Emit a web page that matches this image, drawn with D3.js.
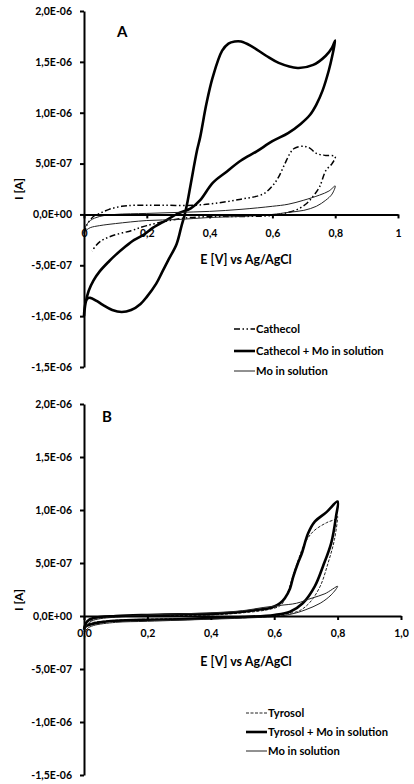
<!DOCTYPE html>
<html>
<head>
<meta charset="utf-8">
<script src="https://cdn.jsdelivr.net/npm/d3@7"></script>
<style>
  html, body { margin: 0; padding: 0; background: #fff; }
  svg { display: block; }
  text { font-family: Lato, "Open Sans", sans-serif; font-weight: bold; fill: #000; }
</style>
</head>
<body>
<svg id="chart" width="414" height="784"></svg>
<script>
// ---- Tick values / labels (current in units of 1e-6 A) ----
const yTickValues = [2, 1.5, 1, 0.5, 0, -0.5, -1, -1.5];
const yTickLabels = ["2,0E-06", "1,5E-06", "1,0E-06", "5,0E-07", "0,0E+00", "-5,0E-07", "-1,0E-06", "-1,5E-06"];
const xTickValues = [0, 0.2, 0.4, 0.6, 0.8, 1];
const xTickLabelsA = ["0", "0,2", "0,4", "0,6", "0,8", "1"];
const xTickLabelsB = ["0,0", "0,2", "0,4", "0,6", "0,8", "1,0"];

// ---- Panel A: Cathecol ----
const cathE = [0, 0.01, 0.03, 0.05, 0.08, 0.12, 0.16, 0.25, 0.35, 0.42, 0.50, 0.57, 0.60, 0.62, 0.64, 0.656, 0.67, 0.70, 0.72, 0.74, 0.77, 0.80,
               0.79, 0.77, 0.75, 0.73, 0.71, 0.68, 0.65, 0.60, 0.50, 0.42, 0.31, 0.20, 0.15, 0.09, 0.05, 0.025];
const cathI = [-0.19, -0.1, -0.02, 0.01, 0.05, 0.08, 0.09, 0.09, 0.09, 0.11, 0.15, 0.20, 0.28, 0.37, 0.50, 0.60, 0.65, 0.67, 0.65, 0.60, 0.58, 0.57,
               0.50, 0.43, 0.27, 0.18, 0.11, 0.05, 0.02, -0.01, -0.02, -0.02, -0.04, -0.11, -0.16, -0.21, -0.27, -0.36];

// ---- Panel A: Cathecol + Mo in solution ----
const cathMoE = [0, 0.003, 0.01, 0.02, 0.04, 0.06, 0.09, 0.12, 0.15, 0.18, 0.20, 0.23, 0.25, 0.27, 0.295, 0.31, 0.32, 0.33, 0.34, 0.36, 0.37, 0.39, 0.41, 0.44, 0.46, 0.48, 0.50, 0.53, 0.58, 0.62, 0.68, 0.73, 0.77, 0.79, 0.80,
                 0.79, 0.78, 0.76, 0.74, 0.72, 0.69, 0.65, 0.60, 0.55, 0.50, 0.45, 0.41, 0.37, 0.34, 0.30, 0.26, 0.22, 0.19, 0.16, 0.13, 0.10, 0.08, 0.05, 0.03, 0.015, 0.005, 0];
const cathMoI = [-1.0, -0.9, -0.83, -0.82, -0.85, -0.89, -0.94, -0.96, -0.94, -0.88, -0.81, -0.68, -0.56, -0.44, -0.29, -0.12, -0.01, 0.13, 0.30, 0.63, 0.76, 1.09, 1.35, 1.61, 1.68, 1.70, 1.70, 1.66, 1.56, 1.49, 1.44, 1.47, 1.56, 1.64, 1.71,
                 1.55, 1.42, 1.22, 1.08, 0.98, 0.89, 0.80, 0.72, 0.62, 0.53, 0.41, 0.31, 0.14, 0.06, 0.01, -0.06, -0.13, -0.20, -0.25, -0.32, -0.40, -0.46, -0.56, -0.65, -0.75, -0.87, -1.0];

// ---- Panel A: Mo in solution ----
const moAE = [0, 0.005, 0.02, 0.05, 0.10, 0.20, 0.30, 0.40, 0.50, 0.60, 0.65, 0.70, 0.75, 0.78, 0.80,
              0.79, 0.77, 0.74, 0.70, 0.65, 0.60, 0.50, 0.40, 0.30, 0.20, 0.10, 0.05, 0.02, 0.005];
const moAI = [-0.18, -0.12, -0.06, -0.02, 0.0, 0.01, 0.02, 0.03, 0.05, 0.08, 0.10, 0.14, 0.19, 0.23, 0.28,
              0.20, 0.14, 0.08, 0.04, 0.02, 0.0, -0.02, -0.03, -0.05, -0.06, -0.09, -0.11, -0.13, -0.16];

// ---- Panel B: Tyrosol ----
const tyrE = [0, 0.01, 0.05, 0.20, 0.40, 0.50, 0.58, 0.62, 0.64, 0.655, 0.676, 0.697, 0.724, 0.765, 0.797, 0.80,
              0.79, 0.77, 0.745, 0.713, 0.68, 0.64, 0.60, 0.40, 0.20, 0.10, 0.03, 0.01, 0];
const tyrI = [-0.10, -0.06, -0.02, 0.0, 0.01, 0.03, 0.06, 0.10, 0.20, 0.34, 0.53, 0.69, 0.80, 0.88, 0.92, 0.94,
              0.72, 0.50, 0.28, 0.13, 0.05, 0.02, 0.0, -0.02, -0.03, -0.04, -0.06, -0.08, -0.10];

// ---- Panel B: Tyrosol + Mo in solution ----
const tyrMoE = [0, 0.01, 0.03, 0.10, 0.20, 0.30, 0.40, 0.50, 0.55, 0.58, 0.60, 0.618, 0.634, 0.65, 0.66, 0.675, 0.687, 0.707, 0.728, 0.765, 0.80,
                0.795, 0.78, 0.754, 0.728, 0.69, 0.65, 0.60, 0.50, 0.40, 0.30, 0.20, 0.10, 0.05, 0.02, 0.005, 0];
const tyrMoI = [-0.12, -0.05, -0.02, 0.0, 0.01, 0.015, 0.02, 0.04, 0.06, 0.07, 0.09, 0.12, 0.17, 0.26, 0.37, 0.50, 0.59, 0.78, 0.89, 0.98, 1.08,
                0.94, 0.69, 0.47, 0.28, 0.12, 0.04, 0.01, -0.01, -0.02, -0.03, -0.035, -0.045, -0.06, -0.08, -0.10, -0.13];

// ---- Panel B: Mo in solution ----
const moBE = [0, 0.01, 0.03, 0.10, 0.20, 0.30, 0.40, 0.50, 0.565, 0.618, 0.67, 0.72, 0.76, 0.80,
              0.78, 0.745, 0.70, 0.67, 0.62, 0.50, 0.40, 0.20, 0.10, 0.03, 0.01, 0];
const moBI = [-0.15, -0.08, -0.04, -0.01, 0.01, 0.02, 0.03, 0.05, 0.08, 0.10, 0.12, 0.17, 0.21, 0.28,
              0.20, 0.12, 0.06, 0.03, 0.0, -0.02, -0.03, -0.05, -0.06, -0.09, -0.12, -0.17];

const styles = {
  dashdot: { width: 1.5, color: "#000", dash: "6,2.5,1.5,2.5,1.5,2.5" },
  thick:   { width: 2.6, color: "#000", dash: null },
  thin:    { width: 1,   color: "#222", dash: null },
  dashed:  { width: 1,   color: "#222", dash: "3,1.5" }
};

const panels = [
  {
    letter: "A", letterX: 117, letterY: 37,
    xRange: [84, 398], yRange: [367, 11], xLabels: xTickLabelsA, tickPad: 11,
    titleY: 264, yTitleY: 189,
    series: [
      { name: "Cathecol", E: cathE, I: cathI, style: "dashdot" },
      { name: "Cathecol + Mo in solution", E: cathMoE, I: cathMoI, style: "thick" },
      { name: "Mo in solution", E: moAE, I: moAI, style: "thin" }
    ],
    legend: { x1: 234, x2: 255, ys: [329, 351, 371] }
  },
  {
    letter: "B", letterX: 102, letterY: 422,
    xRange: [84, 401], yRange: [775, 404], xLabels: xTickLabelsB, tickPad: 10,
    titleY: 666, yTitleY: 600,
    series: [
      { name: "Tyrosol", E: tyrE, I: tyrI, style: "dashed" },
      { name: "Tyrosol + Mo in solution", E: tyrMoE, I: tyrMoI, style: "thick" },
      { name: "Mo in solution", E: moBE, I: moBI, style: "thin" }
    ],
    legend: { x1: 246, x2: 267, ys: [713, 732, 751] }
  }
];

const svg = d3.select("#chart");

panels.forEach(p => {
  const g = svg.append("g");
  const x = d3.scaleLinear().domain([0, 1]).range(p.xRange);
  const y = d3.scaleLinear().domain([-1.5, 2]).range(p.yRange);

  // Curves
  const line = d3.line().curve(d3.curveCatmullRom.alpha(0.5));
  p.series.forEach(s => {
    const st = styles[s.style];
    const pts = s.E.map((e, i) => [x(e), y(s.I[i])]);
    g.append("path")
      .attr("d", line(pts))
      .attr("fill", "none")
      .attr("stroke", st.color)
      .attr("stroke-width", st.width)
      .attr("stroke-linejoin", "round")
      .attr("stroke-dasharray", st.dash);
  });

  // Y axis
  const yAxis = d3.axisLeft(y).tickValues(yTickValues)
    .tickFormat((d, i) => yTickLabels[i]).tickSize(4).tickSizeOuter(0).tickPadding(8);
  const ya = g.append("g").attr("transform", `translate(${x(0)},0)`).call(yAxis);
  ya.select(".domain").attr("stroke", "#000").attr("stroke-width", 2);
  ya.selectAll(".tick line").attr("stroke", "#000").attr("stroke-width", 2);
  ya.selectAll(".tick text").attr("font-size", 10.5).attr("font-family", "Lato, sans-serif").attr("font-weight", "bold").attr("fill", "#000");

  // X axis at I = 0
  const xAxis = d3.axisBottom(x).tickValues(xTickValues)
    .tickFormat((d, i) => p.xLabels[i]).tickSize(4).tickSizeOuter(0).tickPadding(p.tickPad);
  const xa = g.append("g").attr("transform", `translate(0,${y(0)})`).call(xAxis);
  xa.select(".domain").attr("stroke", "#000").attr("stroke-width", 2);
  xa.selectAll(".tick line").attr("stroke", "#000").attr("stroke-width", 2);
  xa.selectAll(".tick text").attr("font-size", 10.5).attr("font-family", "Lato, sans-serif").attr("font-weight", "bold").attr("fill", "#000");

  // Axis titles
  g.append("text").attr("x", 246).attr("y", p.titleY).attr("text-anchor", "middle")
    .attr("font-size", 12.5).text("E [V] vs Ag/AgCl");
  g.append("text").attr("transform", `translate(23,${p.yTitleY}) rotate(-90)`)
    .attr("text-anchor", "middle").attr("font-size", 12).text("I [A]");

  // Panel letter
  g.append("text").attr("x", p.letterX).attr("y", p.letterY).attr("font-size", 15).text(p.letter);

  // Legend
  p.series.forEach((s, i) => {
    const st = styles[s.style];
    const ly = p.legend.ys[i];
    g.append("line").attr("x1", p.legend.x1).attr("x2", p.legend.x2).attr("y1", ly).attr("y2", ly)
      .attr("stroke", st.color).attr("stroke-width", st.width).attr("stroke-dasharray", st.dash);
    g.append("text").attr("x", p.legend.x2 + 1).attr("y", ly + 4).attr("font-size", 11.2).text(s.name);
  });
});
</script>
</body>
</html>
